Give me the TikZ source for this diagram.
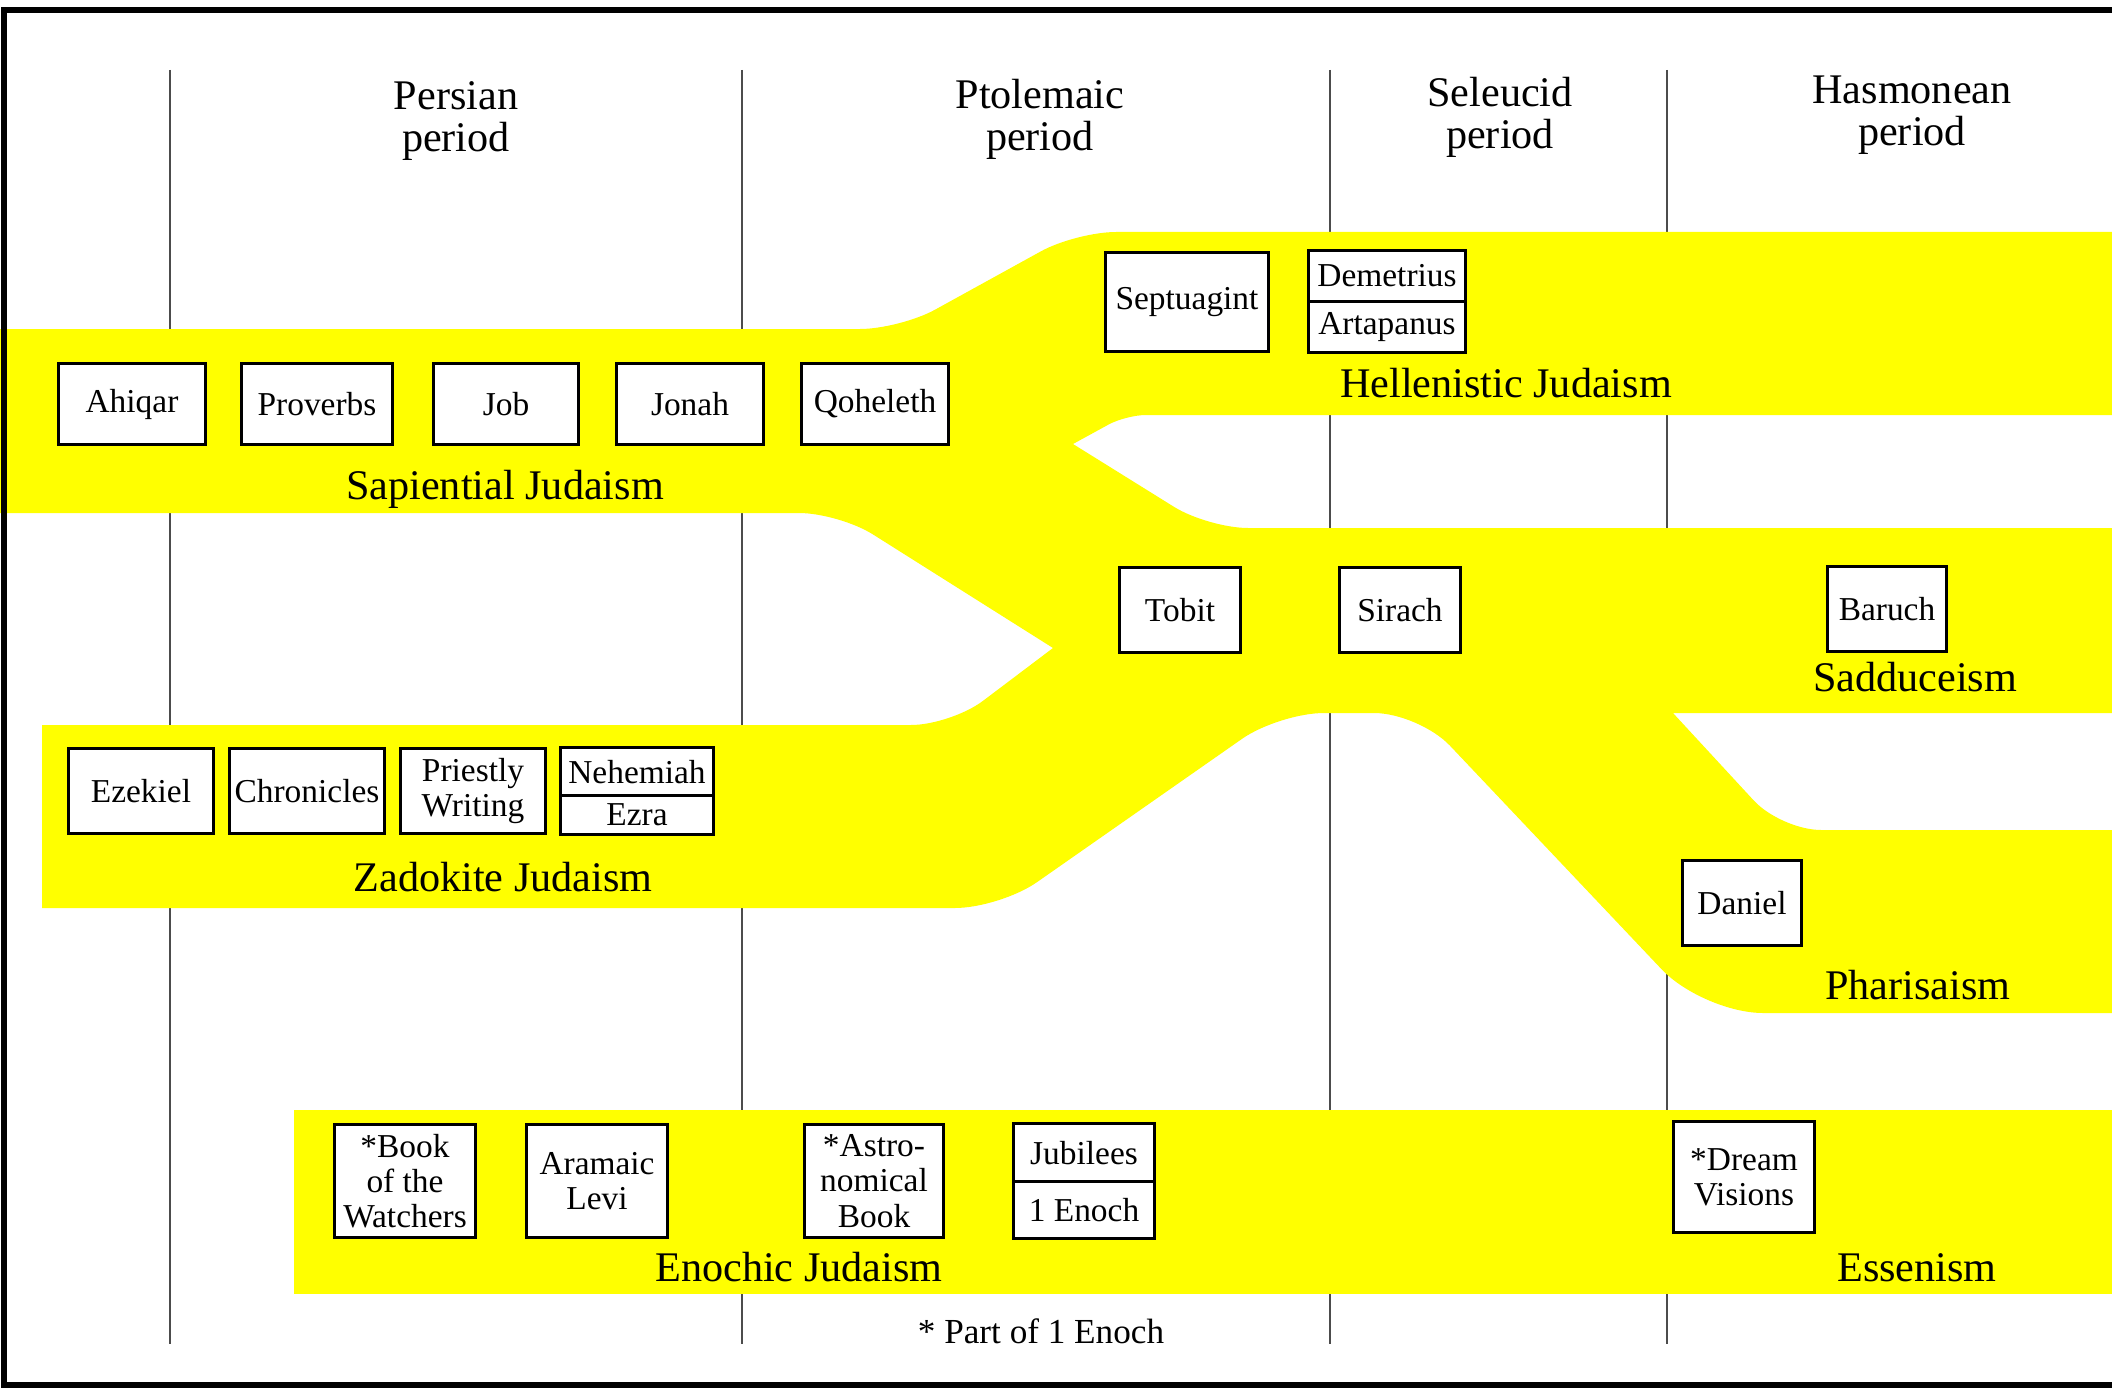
\documentclass[tikz,border=0pt]{standalone}
\usepackage{fontspec}
\setmainfont{Liberation Serif}
\usepackage{tikz}
\definecolor{bandyellow}{RGB}{255,255,0}

\begin{document}
\begin{tikzpicture}[x = 0.01cm, y = -0.01cm,
		book/.style = {draw, line width = 0.03cm, fill = white, inner sep = 0pt, align = center, font = \fontsize{9.5}{10}\selectfont},
		school/.style = {anchor = base, font = \fontsize{12}{14}\selectfont},
		era/.style = {align = center, font = \fontsize{12}{12}\selectfont}]
			\def\yTOP{70};
			\def\yBOT{1344};

			\useasboundingbox (0,0) rectangle (2112,1388);

			\begin{scope}[line width = 0.02cm, black!70]
				\draw (170,\yTOP) -- (170,\yBOT);
				\draw (742,\yTOP) -- (742,\yBOT);
				\draw (1330,\yTOP) -- (1330,\yBOT);
				\draw (1667,\yTOP) -- (1667,\yBOT);
			\end{scope}

			\begin{scope}[bandyellow]
				\fill [rounded corners = 0.4cm] (-100,329) -- (900,329) -- (1076,232) -- (2200,232) -- (2200,415) [rounded corners = 0.2cm] -- (1126,415) [sharp corners] -- (1073,444) [rounded corners = 0.4cm] -- (1208,528) -- (2200,528) [sharp corners] -- (2200,713) -- (1673,713) [rounded corners = 0.4cm] -- (1781,830) -- (2200,830) [rounded corners = 0.6cm] -- (2200,1013) -- (1703,1013) [rounded corners = 0.45cm] -- (1419,713) -- (1279,713) -- (1000,908) [sharp corners] -- (42,908) -- (42,725) [rounded corners = 0.4cm] -- (951,725) [sharp corners] -- (1053,648) [rounded corners = 0.4cm] -- (839,513) -- (-100,513) -- cycle;
				\fill (294,1110) rectangle (2200,1294);
			\end{scope}

			\node [era] (persian) at (456,121) {Persian\\period};
			\node [era] (ptolemaic) at (1040,119) {Ptolemaic\\period};
			\node [era] (seleucid) at (1500,117) {Seleucid\\period};
			\node [era] (hasmonean) at (1912,115) {Hasmonean\\period};

			\node [book, minimum width = 1.47cm, minimum height = 0.81cm] (ahiqar) at (132,404) {Ahiqar};
			\node [book, minimum width = 1.50cm, minimum height = 0.81cm] (proverbs) at (317,404) {Proverbs};
			\node [book, minimum width = 1.45cm, minimum height = 0.81cm] (job) at (506,404) {Job};
			\node [book, minimum width = 1.46cm, minimum height = 0.81cm] (jonah) at (690,404) {Jonah};
			\node [book, minimum width = 1.47cm, minimum height = 0.81cm] (qoheleth) at (875,404) {Qoheleth};

			\node [book, minimum width = 1.62cm, minimum height = 0.98cm] (septuagint) at (1187,302) {Septuagint};
			\node [book, minimum width = 1.57cm, minimum height = 0.50cm] (demetrius) at (1387,276) {Demetrius};
			\node [book, minimum width = 1.57cm, minimum height = 0.51cm] (artapanus) at (1387,327) {Artapanus};

			\node [book, minimum width = 1.21cm, minimum height = 0.84cm] (tobit) at (1180,610) {Tobit};
			\node [book, minimum width = 1.20cm, minimum height = 0.84cm] (sirach) at (1400,610) {Sirach};
			\node [book, minimum width = 1.19cm, minimum height = 0.85cm] (baruch) at (1887,609) {Baruch};

			\node [book, minimum width = 1.45cm, minimum height = 0.84cm] (ezekiel) at (141,791) {Ezekiel};
			\node [book, minimum width = 1.55cm, minimum height = 0.84cm] (chronicles) at (307,791) {Chronicles};
			\node [book, minimum width = 1.45cm, minimum height = 0.84cm] (priestly) at (473,791) {Priestly\\Writing};
			\node [book, minimum width = 1.52cm, minimum height = 0.48cm] (nehemiah) at (637,772) {Nehemiah};
			\node [book, minimum width = 1.52cm, minimum height = 0.38cm] (ezra) at (637,815) {Ezra};

			\node [book, minimum width = 1.18cm, minimum height = 0.84cm] (daniel) at (1742,903) {Daniel};

			\node [book, minimum width = 1.41cm, minimum height = 1.12cm] (watchers) at (405,1181) {*Book\\of the\\Watchers};
			\node [book, minimum width = 1.40cm, minimum height = 1.12cm] (levi) at (597,1181) {Aramaic\\Levi};
			\node [book, minimum width = 1.39cm, minimum height = 1.12cm] (astro) at (874,1181) {*Astro-\\nomical\\Book};
			\node [book, minimum width = 1.41cm, minimum height = 0.58cm] (jubilees) at (1084,1153) {Jubilees};
			\node [book, minimum width = 1.41cm, minimum height = 0.57cm] (enoch) at (1084,1210) {1 Enoch};
			\node [book, minimum width = 1.41cm, minimum height = 1.10cm] (dream) at (1744,1177) {*Dream\\Visions};

			\node [school] (sapiential) at (505,499) {Sapiential Judaism};
			\node [school] (hellenistic) at (1506,397) {Hellenistic Judaism};
			\node [school] (sadducees) at (1915,691) {Sadduceism};
			\node [school] (zadokite) at (503,891) {Zadokite Judaism};
			\node [school] (pharisees) at (1918,999) {Pharisaism};
			\node [school] (enochic) at (799,1281) {Enochic Judaism};
			\node [school] (essenes) at (1917,1281) {Essenism};
			\node [anchor = base, font = \fontsize{10}{12}\selectfont] (note) at (1041,1343) {* Part of 1 Enoch};

			\draw [line width = 0.06cm] (4,10) rectangle (2115,1385);
		\end{tikzpicture}
\end{document}
